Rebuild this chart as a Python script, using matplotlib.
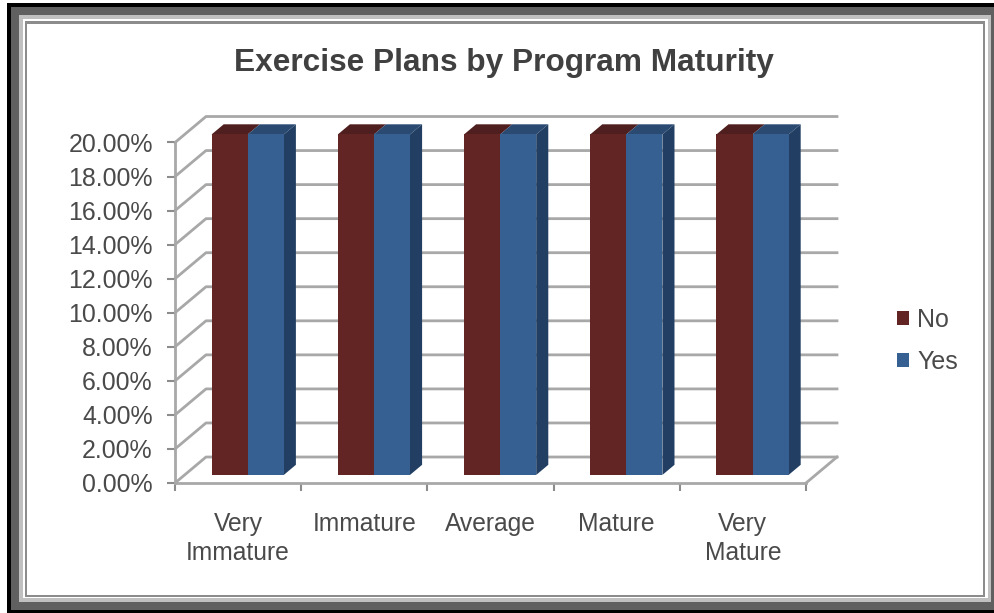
import matplotlib
matplotlib.use('Agg')
import matplotlib.pyplot as plt
from matplotlib.patches import Rectangle, Patch

plt.rcParams['font.family'] = ['Liberation Sans', 'DejaVu Sans']

categories = ['Very\nImmature', 'Immature', 'Average', 'Mature', 'Very\nMature']
no_values = [20, 20, 20, 20, 20]
yes_values = [20, 20, 20, 20, 20]
y_ticks = [0, 2, 4, 6, 8, 10, 12, 14, 16, 18, 20]
y_labels = ['%.2f%%' % v for v in y_ticks]

RED, RED_TOP = '#632523', '#4f1e1e'
BLUE, BLUE_TOP, BLUE_SIDE = '#376092', '#2a4a72', '#223f63'
GRID = '#a8a8a8'
TEXT = '#4a4a4a'

# fake 3d: depth 1 = back wall, in data units
DX, DY = 31 / 126.2, 26 / 17.03
D0, D1 = 0.31, 0.70
BAR_W = 0.286

W, H = 995, 613
fig = plt.figure(figsize=(W / 100, H / 100), dpi=100)

# === frame ===
bg = fig.add_axes([0, 0, 1, 1], zorder=0)
bg.set_xlim(0, W); bg.set_ylim(H, 0); bg.axis('off')
frame = [(7, 3, 995, 613, '#000000'),
         (11, 7, 984, 603, '#606060'),
         (19, 15, 972, 587, '#c0c0c0'),
         (23, 19, 965, 579, '#ffffff'),
         (25, 21, 960, 576, '#8c8c8c'),
         (27, 24, 956, 571, '#ffffff')]
for x0, y0, w, h, c in frame:
    bg.add_patch(Rectangle((x0, y0), w, h, fc=c, ec='none'))

ax = fig.add_axes([175 / W, (H - 483) / H, 631 / W, 340.5 / H], zorder=1)
ax.set_xlim(0, 5); ax.set_ylim(0, 20)
ax.patch.set_alpha(0)

# walls
for v in y_ticks:
    ax.plot([0, DX, 5 + DX], [v, v + DY, v + DY], color=GRID, lw=2, clip_on=False, zorder=1)
ax.plot([5, 5 + DX], [0, DY], color=GRID, lw=2, clip_on=False, zorder=1)

# bars
for i in range(len(categories)):
    left = i + 0.5 + D0 * DX - BAR_W
    for j, (vals, col) in enumerate([(no_values, RED), (yes_values, BLUE)]):
        x0 = left + j * BAR_W
        h = vals[i]
        top_col = RED_TOP if j == 0 else BLUE_TOP
        d = (D1 - D0)
        ax.fill([x0, x0 + d * DX, x0 + BAR_W + d * DX, x0 + BAR_W],
                [h + D0 * DY, h + D1 * DY, h + D1 * DY, h + D0 * DY],
                color=top_col, lw=0, clip_on=False, zorder=3)
        if j == 1:
            xr = x0 + BAR_W
            ax.fill([xr, xr + d * DX, xr + d * DX, xr],
                    [D0 * DY, D1 * DY, h + D1 * DY, h + D0 * DY],
                    color=BLUE_SIDE, lw=0, clip_on=False, zorder=3)
        ax.bar(x0, h, BAR_W, bottom=D0 * DY, align='edge', color=col, lw=0, clip_on=False, zorder=4)

for s in ['top', 'right']:
    ax.spines[s].set_visible(False)
for s in ['left', 'bottom']:
    ax.spines[s].set_color(GRID)
    ax.spines[s].set_linewidth(2)

ax.set_yticks(y_ticks)
ax.set_yticklabels(y_labels, fontsize=17.9, color=TEXT)
ax.set_xticks(range(6))
ax.set_xticklabels([])
ax.set_xticks([i + 0.5 for i in range(5)], minor=True)
ax.set_xticklabels(categories, minor=True, fontsize=17.7, color=TEXT, linespacing=1.23)
ax.tick_params(axis='y', length=6, width=1.5, color='#8c8c8c', pad=10)
ax.tick_params(axis='x', which='major', length=6, width=1.5, color='#8c8c8c')
ax.tick_params(axis='x', which='minor', length=0, pad=21)

fig.text(504 / W, (H - 63) / H, 'Exercise Plans by Program Maturity', ha='center', va='center',
         fontsize=22.8, fontweight='bold', color='#404040', zorder=5)

handles = [Patch(fc=RED, ec='none'), Patch(fc=BLUE, ec='none')]
fig.legend(handles, ['No', 'Yes'], loc='center left', bbox_to_anchor=(875 / W, (H - 341) / H),
           frameon=False, fontsize=18, labelcolor=TEXT, handlelength=0.48, handleheight=0.48,
           handletextpad=0.32, labelspacing=0.72)

fig.savefig('out.png', dpi=100)
